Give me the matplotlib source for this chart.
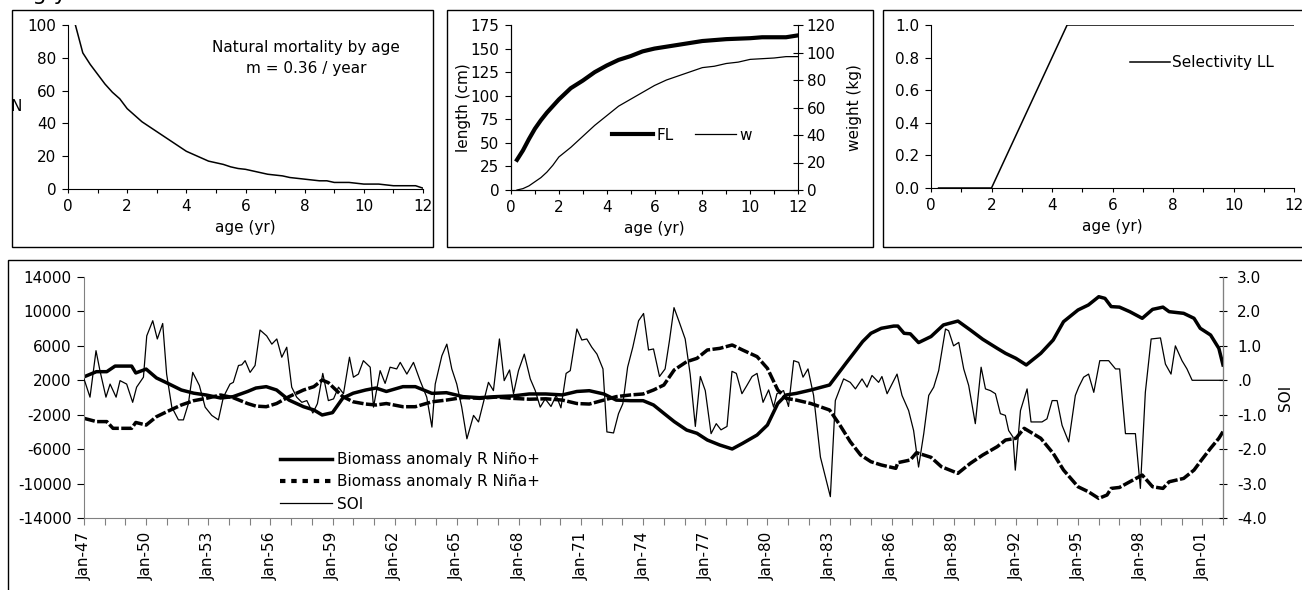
import matplotlib
matplotlib.use("Agg")
import matplotlib.pyplot as plt
from matplotlib.patches import Rectangle
from matplotlib.lines import Line2D
from matplotlib.ticker import FixedLocator, FixedFormatter, FuncFormatter

plt.rcParams['font.family'] = ['DejaVu Sans']
plt.rcParams['font.size'] = 11
plt.rcParams['axes.unicode_minus'] = False

FS = 11

# ---------------- data ----------------
ages_n = [0.25, 0.5, 0.75, 1.0, 1.25, 1.5, 1.75, 2.0, 2.25, 2.5, 2.75, 3.0, 3.25, 3.5, 3.75, 4.0,
          4.25, 4.5, 4.75, 5.0, 5.25, 5.5, 5.75, 6.0, 6.25, 6.5, 6.75, 7.0, 7.25, 7.5, 7.75, 8.0,
          8.25, 8.5, 8.75, 9.0, 9.25, 9.5, 9.75, 10.0, 10.25, 10.5, 10.75, 11.0, 11.25, 11.5, 11.75, 12.0]
n_at_age = [100, 83, 76, 70, 64, 59, 55, 49, 45, 41, 38, 35, 32, 29, 26, 23,
            21, 19, 17, 16, 15, 13.5, 12.5, 12, 11, 10, 9, 8.5, 8, 7, 6.5, 6,
            5.5, 5, 5, 4, 4, 4, 3.5, 3, 3, 3, 2.5, 2, 2, 2, 2, 0.5]

ages_g = [0.25, 0.5, 0.75, 1.0, 1.25, 1.5, 1.75, 2.0, 2.5, 3.0, 3.5, 4.0, 4.5, 5.0, 5.5, 6.0,
          6.5, 7.0, 7.5, 8.0, 8.5, 9.0, 9.5, 10.0, 10.5, 11.0, 11.5, 12.0]
fl_cm = [32, 42, 54, 65, 74, 82, 89, 96, 108, 116, 125, 132, 138, 142, 147, 150,
         152, 154, 156, 158, 159, 160, 160.5, 161, 162, 162, 162, 164]
w_kg = [0, 1, 3, 6, 9, 13, 18, 24, 31, 39, 47, 54, 61, 66, 71, 76,
        80, 83, 86, 89, 90, 92, 93, 95, 95.5, 96, 97, 97]

ages_s = [0.25, 2.0, 2.25, 2.5, 2.75, 3.0, 3.25, 3.5, 3.75, 4.0, 4.25, 4.5, 12.0]
sel_ll = [0.0, 0.0, 0.1, 0.2, 0.3, 0.4, 0.5, 0.6, 0.7, 0.8, 0.9, 1.0, 1.0]

nino_year = [1947.0, 1947.6, 1948.1, 1948.5, 1949.3, 1949.5, 1950.0, 1950.5, 1951.0, 1951.7,
             1952.3, 1952.9, 1953.6, 1954.2, 1954.9, 1955.3, 1955.8, 1956.3, 1956.9, 1957.6,
             1958.1, 1958.5, 1959.0, 1959.5, 1960.0, 1960.6, 1961.1, 1961.6, 1962.4, 1963.0,
             1963.8, 1964.5, 1965.3, 1966.1, 1966.9, 1967.7, 1968.5, 1969.3, 1970.1, 1970.8,
             1971.4, 1972.1, 1972.7, 1973.4, 1974.0, 1974.5, 1975.0, 1975.5, 1976.1, 1976.6,
             1977.1, 1977.7, 1978.3, 1978.8, 1979.5, 1980.0, 1980.5, 1980.9, 1981.4, 1982.1,
             1983.0, 1983.8, 1984.6, 1985.0, 1985.5, 1986.1, 1986.3, 1986.6, 1986.9, 1987.3,
             1987.9, 1988.5, 1989.2, 1989.8, 1990.4, 1991.1, 1991.5, 1992.0, 1992.5, 1993.2,
             1993.8, 1994.3, 1995.0, 1995.5, 1996.0, 1996.3, 1996.6, 1997.0, 1997.5, 1998.1,
             1998.6, 1999.1, 1999.4, 2000.1, 2000.6, 2000.9, 2001.4, 2001.8, 2002.0]
nino_bio = [2400, 3000, 3000, 3650, 3650, 2850, 3300, 2270, 1700, 870,
            500, 290, -60, 100, 700, 1100, 1260, 870, -300, -1070,
            -1450, -2030, -1760, -60, 500, 870, 1100, 700, 1260, 1260,
            480, 560, 100, -20, 100, 180, 410, 410, 300, 700,
            790, 410, -300, -370, -370, -870, -1840, -2800, -3780, -4160,
            -4940, -5520, -5980, -5330, -4360, -3200, -700, 290, 480, 870,
            1450, 4000, 6500, 7460, 8040, 8300, 8300, 7460, 7400, 6380,
            7080, 8430, 8880, 7840, 6760, 5710, 5130, 4550, 3780, 5130,
            6680, 8810, 10170, 10750, 11710, 11520, 10560, 10500, 9970, 9200,
            10240, 10500, 9970, 9780, 9200, 8040, 7260, 5710, 3780]

nina_year = [1947.0, 1947.6, 1948.1, 1948.4, 1949.3, 1949.5, 1950.0, 1950.5, 1951.0, 1951.7,
             1952.3, 1952.9, 1953.6, 1954.2, 1954.9, 1955.3, 1955.8, 1956.3, 1956.9, 1957.6,
             1958.1, 1958.5, 1958.8, 1959.5, 1960.0, 1960.6, 1961.1, 1961.6, 1962.4, 1963.0,
             1963.8, 1964.5, 1965.3, 1966.1, 1966.9, 1967.7, 1968.5, 1969.3, 1970.1, 1970.8,
             1971.4, 1972.1, 1972.7, 1973.4, 1974.0, 1974.5, 1975.0, 1975.5, 1976.1, 1976.6,
             1977.1, 1977.7, 1978.3, 1978.8, 1979.5, 1980.0, 1980.5, 1980.9, 1981.4, 1982.1,
             1983.0, 1983.5, 1984.0, 1984.5, 1985.0, 1985.5, 1986.2, 1986.3, 1986.9, 1987.2,
             1987.9, 1988.4, 1989.2, 1989.8, 1990.4, 1991.1, 1991.5, 1992.0, 1992.4, 1993.2,
             1993.8, 1994.3, 1995.0, 1995.5, 1996.0, 1996.4, 1996.6, 1997.0, 1997.5, 1998.1,
             1998.6, 1999.1, 1999.4, 2000.1, 2000.6, 2000.9, 2001.4, 2001.8, 2002.0]
nina_bio = [-2420, -2800, -2800, -3580, -3580, -2900, -3200, -2230, -1650, -870,
            -370, -100, 290, -20, -700, -1000, -1070, -700, 100, 870,
            1260, 2030, 1720, 100, -500, -760, -870, -700, -1070, -1070,
            -500, -300, 0, -100, 50, -100, -200, -150, -300, -700,
            -760, -300, 100, 300, 410, 870, 1450, 3200, 4160, 4550,
            5520, 5710, 6100, 5520, 4750, 3390, 870, -100, -300, -700,
            -1450, -3200, -5130, -6680, -7460, -7840, -8230, -7570, -7260, -6410,
            -6950, -8040, -8810, -7650, -6680, -5710, -4940, -4740, -3580, -4740,
            -6490, -8430, -10370, -10950, -11720, -11330, -10560, -10450, -9790, -9010,
            -10370, -10560, -9790, -9400, -8430, -7460, -5900, -4740, -3970]

soi_year = [1947.00, 1947.29, 1947.58, 1947.77, 1948.06, 1948.26, 1948.55, 1948.74, 1949.06, 1949.35,
            1949.54, 1949.87, 1950.03, 1950.32, 1950.54, 1950.80, 1950.99, 1951.24, 1951.56, 1951.80,
            1952.04, 1952.25, 1952.57, 1952.85, 1953.17, 1953.49, 1953.73, 1954.05, 1954.21, 1954.46,
            1954.62, 1954.78, 1955.02, 1955.26, 1955.50, 1955.82, 1956.07, 1956.31, 1956.55, 1956.79,
            1957.03, 1957.27, 1957.52, 1957.76, 1958.05, 1958.27, 1958.53, 1958.80, 1959.05, 1959.29,
            1959.53, 1959.82, 1960.01, 1960.25, 1960.49, 1960.82, 1960.98, 1961.30, 1961.54, 1961.78,
            1962.10, 1962.27, 1962.59, 1962.91, 1963.23, 1963.55, 1963.80, 1963.96, 1964.28, 1964.52,
            1964.76, 1965.00, 1965.24, 1965.49, 1965.81, 1966.05, 1966.29, 1966.53, 1966.77, 1967.06,
            1967.29, 1967.55, 1967.74, 1967.98, 1968.26, 1968.55, 1968.79, 1969.03, 1969.27, 1969.55,
            1969.80, 1970.03, 1970.28, 1970.48, 1970.80, 1971.04, 1971.28, 1971.52, 1971.77, 1972.06,
            1972.25, 1972.57, 1972.81, 1973.02, 1973.25, 1973.50, 1973.78, 1974.02, 1974.26, 1974.50,
            1974.79, 1975.06, 1975.27, 1975.49, 1975.75, 1976.03, 1976.27, 1976.52, 1976.76, 1977.00,
            1977.28, 1977.53, 1977.76, 1978.05, 1978.29, 1978.50, 1978.77, 1979.01, 1979.26, 1979.50,
            1979.79, 1980.06, 1980.30, 1980.46, 1980.78, 1981.02, 1981.27, 1981.51, 1981.72, 1981.96,
            1982.23, 1982.56, 1983.04, 1983.28, 1983.68, 1984.00, 1984.25, 1984.57, 1984.81, 1985.05,
            1985.37, 1985.53, 1985.78, 1986.26, 1986.50, 1986.82, 1987.06, 1987.30, 1987.55, 1987.79,
            1988.03, 1988.27, 1988.60, 1988.75, 1988.99, 1989.24, 1989.48, 1989.72, 1990.04, 1990.32,
            1990.53, 1990.77, 1991.01, 1991.25, 1991.49, 1991.65, 1991.86, 1991.97, 1992.22, 1992.54,
            1992.73, 1993.26, 1993.50, 1993.75, 1993.99, 1994.23, 1994.55, 1994.87, 1995.03, 1995.27,
            1995.51, 1995.76, 1996.05, 1996.48, 1996.81, 1997.01, 1997.29, 1997.77, 1998.01, 1998.25,
            1998.53, 1998.98, 1999.22, 1999.49, 1999.70, 2000.02, 2000.26, 2000.51, 2002.00]
soi_val = [0.04, -0.49, 0.86, 0.28, -0.49, -0.11, -0.49, -0.01, -0.11, -0.64,
           -0.20, 0.09, 1.29, 1.73, 1.20, 1.65, 0.18, -0.78, -1.15, -1.15,
           -0.68, 0.23, -0.15, -0.78, -1.02, -1.15, -0.49, -0.11, -0.06, 0.43,
           0.45, 0.57, 0.23, 0.43, 1.46, 1.29, 1.05, 1.20, 0.67, 0.96,
           -0.20, -0.49, -0.64, -0.59, -0.95, -0.68, 0.20, -0.59, -0.54, -0.20,
           -0.39, 0.67, 0.09, 0.18, 0.57, 0.38, -0.78, 0.28, -0.09, 0.38,
           0.33, 0.52, 0.18, 0.52, -0.01, -0.49, -1.36, -0.11, 0.71, 1.05,
           0.33, -0.11, -0.78, -1.70, -1.02, -1.21, -0.64, -0.06, -0.30, 1.20,
           -0.01, 0.30, -0.39, 0.28, 0.76, 0.04, -0.30, -0.78, -0.54, -0.76,
           -0.44, -0.80, 0.20, 0.28, 1.49, 1.17, 1.20, 0.96, 0.76, 0.33,
           -1.50, -1.53, -0.97, -0.68, 0.38, 0.96, 1.73, 1.94, 0.88, 0.91,
           0.11, 0.33, 1.15, 2.11, 1.68, 1.20, 0.18, -1.34, 0.11, -0.30,
           -1.55, -1.26, -1.44, -1.34, 0.26, 0.20, -0.39, -0.15, 0.11, 0.20,
           -0.64, -0.28, -0.78, -0.39, -0.30, -0.76, 0.57, 0.52, 0.09, 0.33,
           -0.44, -2.23, -3.38, -0.59, 0.04, -0.06, -0.25, 0.04, -0.20, 0.14,
           -0.06, 0.11, -0.39, 0.18, -0.44, -0.88, -1.46, -2.52, -1.55, -0.44,
           -0.20, 0.28, 1.49, 1.44, 1.00, 1.10, 0.33, -0.15, -1.26, 0.38,
           -0.25, -0.30, -0.39, -0.97, -1.02, -1.46, -1.65, -2.61, -0.88, -0.25,
           -1.21, -1.21, -1.12, -0.59, -0.59, -1.31, -1.79, -0.44, -0.20, 0.09,
           0.18, -0.35, 0.57, 0.57, 0.33, 0.33, -1.55, -1.55, -3.14, -0.35,
           1.20, 1.23, 0.47, 0.18, 1.00, 0.57, 0.33, 0.00, 0.00]

year_ticks = list(range(1947, 2003))
year_label_every = 3

# ---------------- figure ----------------
W, H = 1302, 590
fig = plt.figure(figsize=(W / 100, H / 100), dpi=100)
fig.patch.set_facecolor('white')


def ax_px(l, t, r, b):
    return fig.add_axes([l / W, 1 - b / H, (r - l) / W, (b - t) / H])


def frame_px(l, t, r, b):
    fig.patches.append(Rectangle((l / W, 1 - b / H), (r - l) / W, (b - t) / H,
                                 transform=fig.transFigure, fill=False,
                                 edgecolor='black', linewidth=1.0))


frame_px(12, 10, 433, 247)
frame_px(447, 10, 873, 247)
frame_px(883, 10, 1320, 247)
frame_px(8, 260, 1320, 610)

# clipped remnant of a heading above the figure (cut off in the original too)
fig.text(12 / W, 1 - 0.5 / H, "ing y", fontsize=16, va='baseline', ha='left')


def style_top(ax):
    for s in ('top', 'right'):
        ax.spines[s].set_visible(False)
    ax.set_xlim(0, 12)
    ax.xaxis.set_major_locator(FixedLocator(list(range(0, 13))))
    ax.xaxis.set_major_formatter(FixedFormatter([str(i) if i % 2 == 0 else '' for i in range(13)]))
    ax.tick_params(axis='x', direction='out', length=3, width=0.8, pad=4, labelsize=FS)
    ax.tick_params(axis='y', direction='out', length=4.3, width=0.8, pad=4, labelsize=FS)
    ax.set_xlabel('age (yr)', fontsize=FS, labelpad=4.5)


# Panel 1
ax1 = ax_px(68, 25, 423, 189)
ax1.plot(ages_n, n_at_age, color='black', lw=1.1)
ax1.set_ylim(0, 100)
ax1.set_yticks([0, 20, 40, 60, 80, 100])
style_top(ax1)
ax1.set_ylabel('N', rotation=0, fontsize=FS, labelpad=8, va='center')
ax1.text(0.67, 0.91, 'Natural mortality by age\nm = 0.36 / year', transform=ax1.transAxes,
         ha='center', va='top', fontsize=FS, linespacing=1.5)

# Panel 2
ax2 = ax_px(511, 25, 798, 190)
ax2r = ax2.twinx()
l_fl, = ax2.plot(ages_g, fl_cm, color='black', lw=3.0)
l_w, = ax2r.plot(ages_g, w_kg, color='black', lw=0.9)
ax2.set_ylim(0, 175)
ax2.set_yticks(list(range(0, 176, 25)))
ax2r.set_ylim(0, 120)
ax2r.set_yticks(list(range(0, 121, 20)))
style_top(ax2)
ax2r.spines['top'].set_visible(False)
ax2r.tick_params(axis='y', direction='inout', length=6.5, width=0.8, pad=3, labelsize=FS)
ax2.set_ylabel('length (cm)', fontsize=FS, labelpad=0)
ax2r.set_ylabel('weight (kg)', fontsize=FS, labelpad=8)
ax2.legend([l_fl, l_w], ['FL', 'w'], ncol=2, frameon=False, loc='center left',
           bbox_to_anchor=(612 / W, 1 - 135 / H), bbox_transform=fig.transFigure,
           handlelength=2.7, handletextpad=0.2, columnspacing=1.4, borderpad=0,
           borderaxespad=0, fontsize=FS)

# Panel 3
ax3 = ax_px(931, 25, 1294, 188)
l_s, = ax3.plot(ages_s, sel_ll, color='black', lw=1.1)
ax3.set_ylim(0, 1.0)
ax3.set_yticks([0, 0.2, 0.4, 0.6, 0.8, 1.0])
ax3.yaxis.set_major_formatter(FuncFormatter(lambda v, p: f"{v:.1f}"))
style_top(ax3)
ax3.legend([l_s], ['Selectivity LL'], frameon=False, loc='center left',
           bbox_to_anchor=(1130 / W, 1 - 63 / H), bbox_transform=fig.transFigure,
           handlelength=2.6, handletextpad=0.12, borderpad=0, borderaxespad=0, fontsize=FS)

# Bottom panel
ax4 = ax_px(84, 277, 1223, 518)
ax4r = ax4.twinx()
l_nino, = ax4.plot(nino_year, nino_bio, color='black', lw=2.5, solid_joinstyle='round')
l_nina, = ax4.plot(nina_year, nina_bio, color='black', lw=2.5, linestyle=(0, (3.2, 0.7)),
                   dash_capstyle='butt')
l_soi, = ax4r.plot(soi_year, soi_val, color='black', lw=0.9)
ax4.set_xlim(1947, 2002)
ax4.set_ylim(-14000, 14000)
ax4.set_yticks(list(range(-14000, 14001, 4000)))
ax4r.set_ylim(-4, 3)
ax4r.set_yticks([-4, -3, -2, -1, 0, 1, 2, 3])


def soi_fmt(v, p):
    s = f"{v:.1f}"
    if s in ('0.0', '-0.0'):
        s = '.0'
    return s


ax4r.yaxis.set_major_formatter(FuncFormatter(soi_fmt))
ax4.xaxis.set_major_locator(FixedLocator(year_ticks))
ax4.xaxis.set_major_formatter(FixedFormatter(
    [("Jan-%02d" % (y % 100)) if (y - 1947) % year_label_every == 0 else '' for y in year_ticks]))
for a in (ax4, ax4r):
    a.spines['top'].set_visible(False)
gray = '#808080'
ax4.spines['left'].set_color(gray)
ax4.spines['bottom'].set_color(gray)
ax4r.spines['right'].set_color(gray)
ax4r.spines['left'].set_visible(False)
ax4r.spines['bottom'].set_visible(False)
ax4.tick_params(axis='y', direction='out', length=5, width=0.8, pad=4, labelsize=FS)
ax4.tick_params(axis='x', direction='out', length=5, width=0.8, color=gray, pad=5,
                labelsize=FS, labelrotation=90)
ax4r.tick_params(axis='y', direction='inout', length=6, width=0.8, pad=7, labelsize=FS)
ax4r.set_ylabel('SOI', fontsize=FS, labelpad=8)

leg_nina = Line2D([], [], color='black', lw=3.0, linestyle=(0, (1.3, 1.4)), dash_capstyle='butt')
ax4.legend([l_nino, leg_nina, l_soi],
           ['Biomass anomaly R Niño+', 'Biomass anomaly R Niña+', 'SOI'],
           frameon=False, loc='upper left',
           bbox_to_anchor=(280 / W, 1 - 452 / H), bbox_transform=fig.transFigure,
           handlelength=3.4, handletextpad=0.3, labelspacing=0.48, borderpad=0,
           borderaxespad=0, fontsize=FS)

fig.savefig('out.png', dpi=100, facecolor='white')
